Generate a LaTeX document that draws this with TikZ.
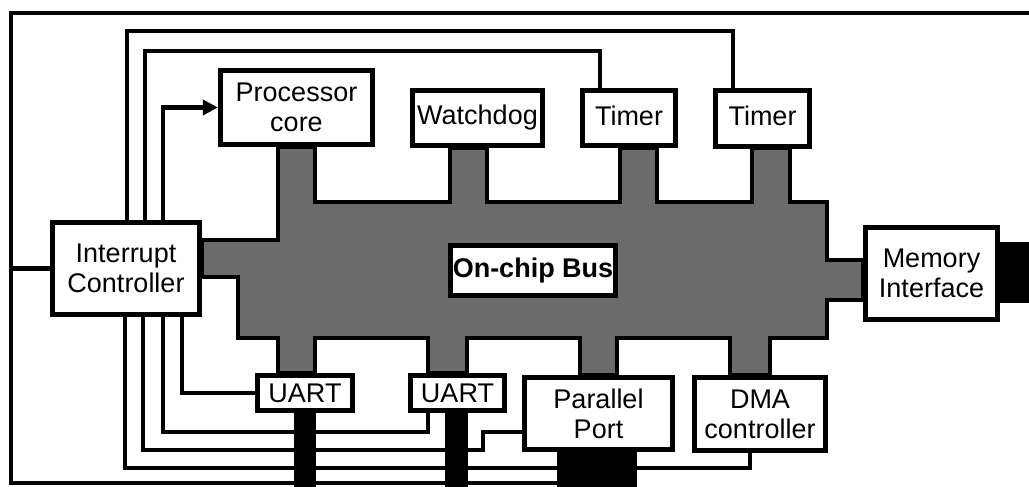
\documentclass[tikz,border=0pt]{standalone}
\usepackage{fontspec}
\setmainfont{Liberation Sans}
\usetikzlibrary{arrows.meta}
\pgfdeclarelayer{bg}
\pgfsetlayers{bg,main}
\begin{document}
\begin{tikzpicture}[x=1pt,y=-1pt,
  box/.style={draw,line width=4.8pt,fill=white,inner sep=0pt,align=center,
    font=\fontsize{27}{30}\selectfont},
  wire/.style={line width=4.8pt,line join=miter},
  busshape/.style={fill=black!58,draw=black,line width=4.8pt,line join=miter}]
\useasboundingbox (0,0) rectangle (1029,487);
% blocks
\node[box,minimum width=152.5pt,minimum height=74.5pt] (proc) at (296.5,107.5) {Processor\\core};
\node[box,minimum width=130.5pt,minimum height=55.5pt] (wdog) at (477.5,118) {\raisebox{5pt}{Watchdog}};
\node[box,minimum width=93.5pt,minimum height=55.5pt] (tim1) at (629,118) {\raisebox{5pt}{Timer}};
\node[box,minimum width=94pt,minimum height=55.5pt] (tim2) at (762.5,118.5) {\raisebox{5pt}{Timer}};
\node[box,minimum width=147.5pt,minimum height=92.5pt] (intc) at (126,268.5) {Interrupt\\Controller};
\node[box,minimum width=132.5pt,minimum height=92.5pt] (mem) at (931.5,273.5) {Memory\\Interface};
\node[box,minimum width=95.5pt,minimum height=35.5pt] (uart1) at (305,393) {UART};
\node[box,minimum width=94.5pt,minimum height=35.5pt] (uart2) at (457.5,393) {UART};
\node[box,minimum width=148.5pt,minimum height=72.5pt] (pport) at (598.5,413.5) {Parallel\\Port};
\node[box,minimum width=131.5pt,minimum height=73.5pt] (dma) at (760,414) {DMA\\controller};
% helper coordinates
\coordinate (y30) at (0,31);
\coordinate (y50) at (0,51);
\coordinate (y432) at (0,432);
\coordinate (y450) at (0,450);
\coordinate (y468) at (0,468);
\coordinate (jx) at (483,0);
\coordinate (fTR) at (1029,13);
\coordinate (fTL) at (11,13);
\coordinate (fBL) at (11,483);
\coordinate (fBR) at (557,483);
\coordinate (a1) at ([xshift=1pt]intc.north);
\coordinate (a2) at ([xshift=19pt]intc.north);
\coordinate (a3) at ([xshift=37pt]intc.north);
\coordinate (b5) at ([xshift=56pt]intc.south);
\coordinate (b6) at ([xshift=37pt]intc.south);
\coordinate (b7) at ([xshift=17pt]intc.south);
\coordinate (b8) at ([xshift=-1pt]intc.south);
\coordinate (t2) at ([xshift=-29.5pt]tim2.north);
\coordinate (t1) at ([xshift=-29pt]tim1.north);
\coordinate (u2) at ([xshift=-29.5pt]uart2.south);
\coordinate (p1) at ([yshift=-18.5pt]pport.west);
\coordinate (d1) at ([xshift=-10pt]dma.south);
\begin{pgfonlayer}{bg}
% on-chip bus
\draw[busshape] (202,240) -- (278,240) -- (278,147) -- (315,147) -- (315,202)
  -- (450,202) -- (450,148) -- (487,148) -- (487,202)
  -- (620,202) -- (620,148) -- (657,148) -- (657,202)
  -- (752,202) -- (752,148) -- (790,148) -- (790,202)
  -- (827,202) -- (827,260) -- (863,260) -- (863,300) -- (827,300) -- (827,338)
  -- (770,338) -- (770,375) -- (730,375) -- (730,338)
  -- (617,338) -- (617,375) -- (580,375) -- (580,338)
  -- (467,338) -- (467,373) -- (428,373) -- (428,338)
  -- (315,338) -- (315,373) -- (278,373) -- (278,338)
  -- (238,338) -- (238,277) -- (202,277) -- cycle;
% wires
\draw[wire] (fTR) -- (fTL) -- (fBL) -- (fBR);
\draw[wire] (intc.west) -- (fTL |- intc.west);
\draw[wire] (a1) -- (a1 |- y30) -- (t2 |- y30) -- (t2);
\draw[wire] (a2) -- (a2 |- y50) -- (t1 |- y50) -- (t1);
\draw[wire] (b5) |- (uart1.west);
\draw[wire] (b6) -- (b6 |- y432) -- (u2 |- y432) -- (u2);
\draw[wire] (b7) -- (b7 |- y450) -- (jx |- y450) -- (jx |- p1) -- (p1);
\draw[wire] (b8) -- (b8 |- y468) -- (d1 |- y468) -- (d1);
% external pins
\fill ([xshift=-11pt]uart1.south) rectangle ++(22,80);
\fill ([xshift=-12.5pt]uart2.south) rectangle ++(23,80);
\fill ([xshift=-41.5pt]pport.south) rectangle ++(80,40);
\fill ([yshift=31.5pt]mem.east) rectangle ++(35,61);
\end{pgfonlayer}
\draw[wire,-{Triangle[length=15pt,width=15pt]}] (a3) |- (proc.west);
\node[box,font=\fontsize{27}{30}\selectfont\bfseries,minimum width=165.5pt,minimum height=50.5pt] (buslbl) at (533,270.5) {On-chip Bus};
\end{tikzpicture}
\end{document}
